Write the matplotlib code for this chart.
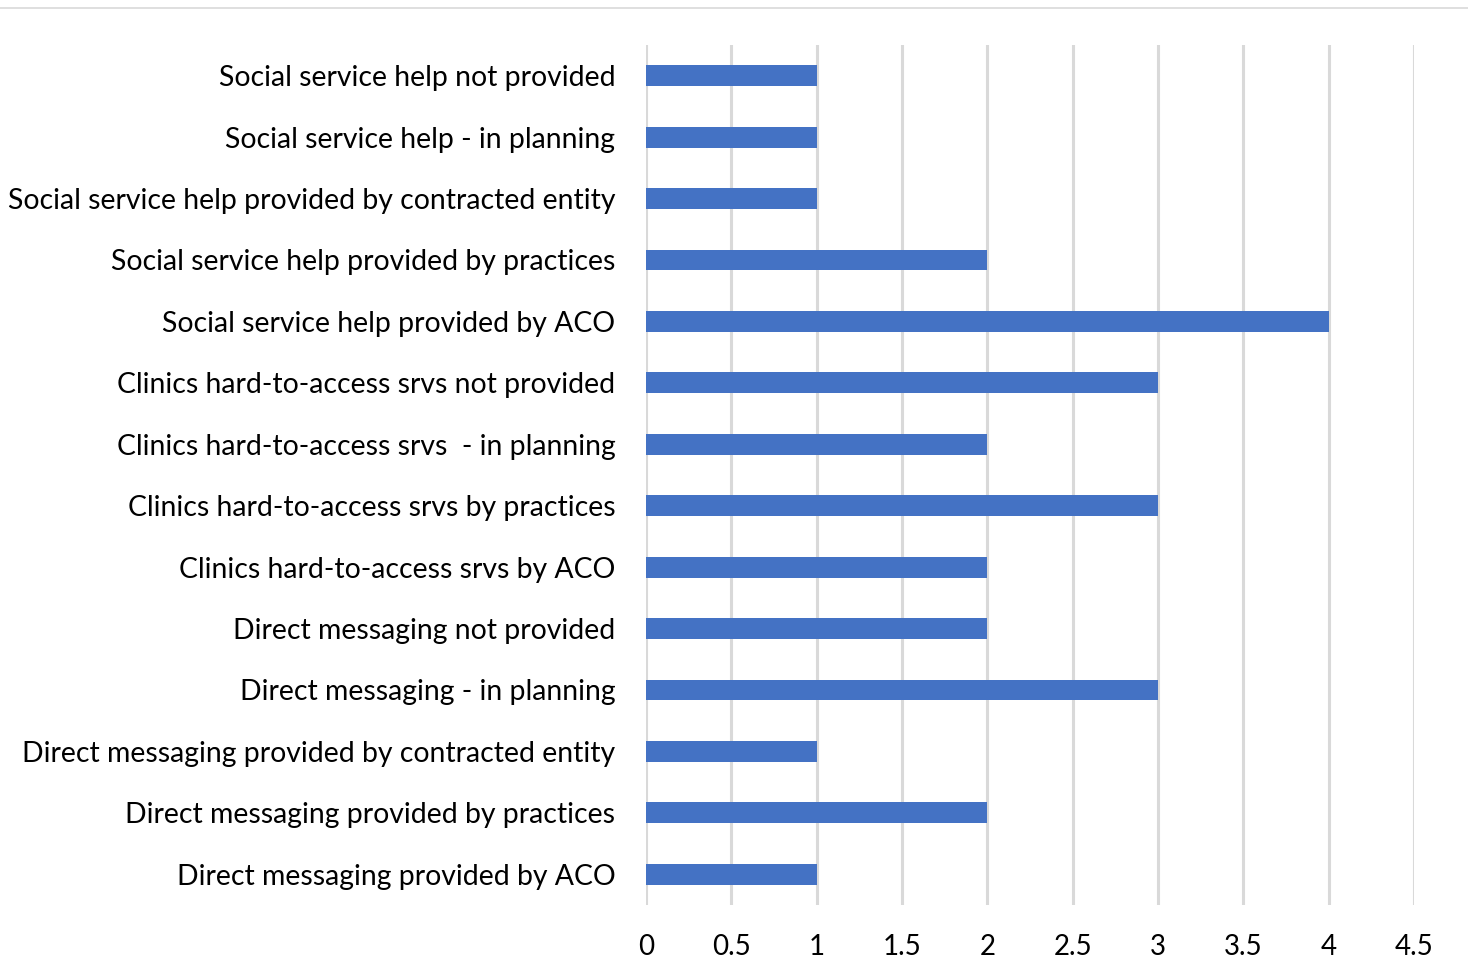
import matplotlib.pyplot as plt
from matplotlib.lines import Line2D

categories = [
    "Social service help not provided",
    "Social service help - in planning",
    "Social service help provided by contracted entity",
    "Social service help provided by practices",
    "Social service help provided by ACO",
    "Clinics hard-to-access srvs not provided",
    "Clinics hard-to-access srvs  - in planning",
    "Clinics hard-to-access srvs by practices",
    "Clinics hard-to-access srvs by ACO",
    "Direct messaging not provided",
    "Direct messaging - in planning",
    "Direct messaging provided by contracted entity",
    "Direct messaging provided by practices",
    "Direct messaging provided by ACO",
]
counts = [1, 1, 1, 2, 4, 3, 2, 3, 2, 2, 3, 1, 2, 1]
xticks = [0, 0.5, 1, 1.5, 2, 2.5, 3, 3.5, 4, 4.5]

plt.rcParams['font.family'] = ['Lato', 'DejaVu Sans']

fig = plt.figure(figsize=(14.68, 9.77), dpi=100)
ax = fig.add_axes([0.44, 0.0737, 0.5232, 0.8803])

y = list(range(len(categories)))
ax.barh(y, counts, height=0.34, color="#4472C4", zorder=3)

ax.set_ylim(len(categories) - 0.5, -0.5)
ax.set_xlim(0, 4.5)
ax.set_xticks(xticks)
ax.set_xticklabels([f"{t:g}" for t in xticks])
ax.set_yticks(y)
ax.set_yticklabels(categories)

ax.tick_params(axis="y", length=0, pad=22, labelsize=20.4)
ax.tick_params(axis="x", length=0, pad=21, labelsize=20)

ax.grid(axis="x", color="#d9d9d9", linewidth=2.2, zorder=0)
for s in ax.spines.values():
    s.set_visible(False)

# thin rule across the top of the figure
fig.add_artist(Line2D([0, 1], [1 - 8 / 977] * 2, color="#d9d9d9",
                      linewidth=1.2, transform=fig.transFigure))

fig.savefig("out.png", dpi=100)
